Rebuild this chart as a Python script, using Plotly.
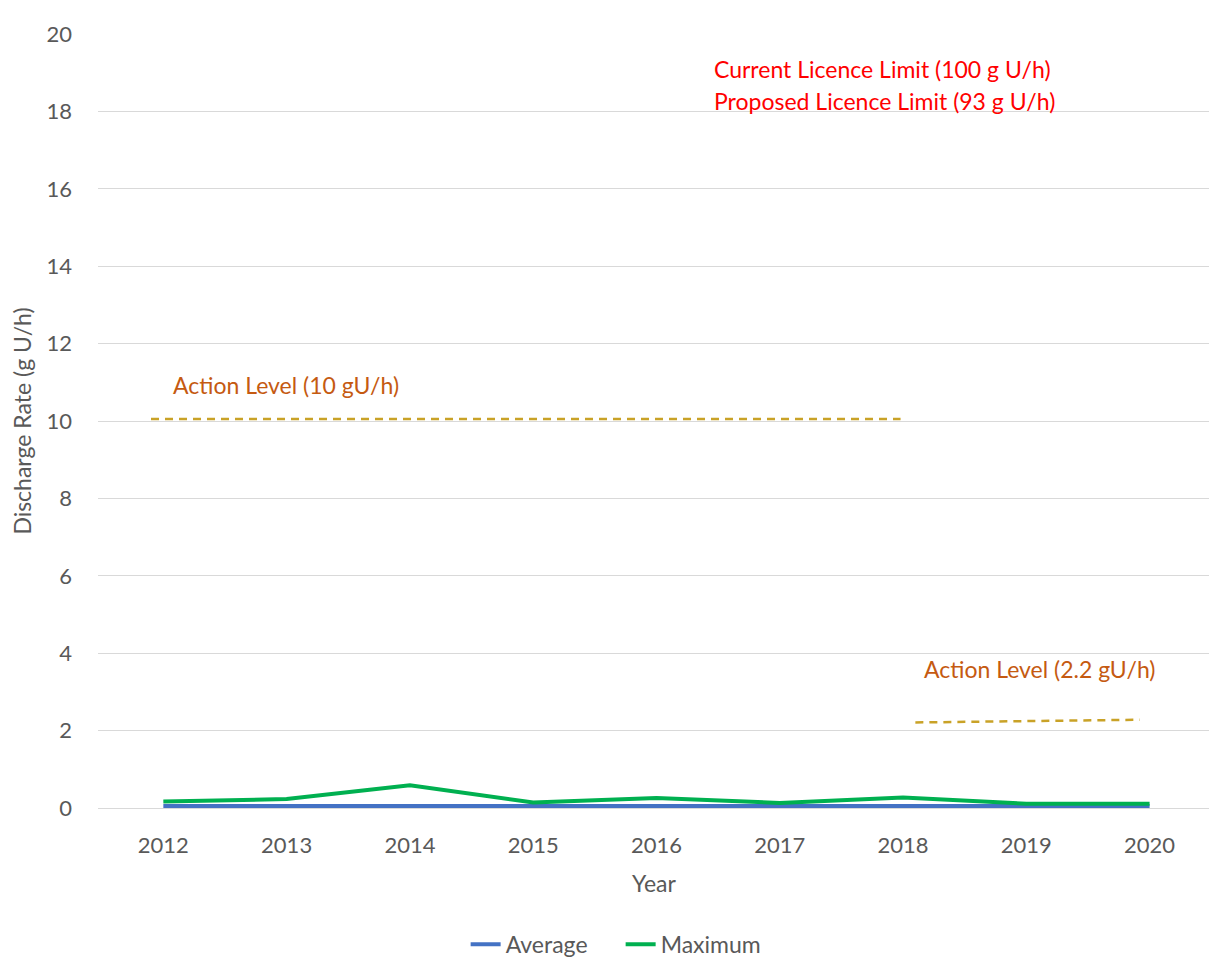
import plotly.graph_objects as go

years = [2012, 2013, 2014, 2015, 2016, 2017, 2018, 2019, 2020]
average = [0.05, 0.04, 0.05, 0.05, 0.05, 0.04, 0.05, 0.05, 0.05]
maximum = [0.17, 0.23, 0.59, 0.14, 0.26, 0.13, 0.27, 0.11, 0.11]

action1_x = [2011.9, 2017.98]
action1_y = [10.05, 10.05]
action2_x = [2018.1, 2019.92]
action2_y = [2.21, 2.28]

y_ticks = [0, 2, 4, 6, 8, 10, 12, 14, 16, 18, 20]

FONT = "Lato, 'Open Sans', sans-serif"
GREY = "#595959"
DASH_COLOR = "#C9A227"

fig = go.Figure()
fig.add_trace(go.Scatter(x=years, y=average, mode="lines", name="Average",
                         line=dict(color="#4472C4", width=4)))
fig.add_trace(go.Scatter(x=years, y=maximum, mode="lines", name="Maximum",
                         line=dict(color="#00B050", width=4)))
fig.add_trace(go.Scatter(x=action1_x, y=action1_y, mode="lines", showlegend=False,
                         line=dict(color=DASH_COLOR, width=2.5, dash="8px,6px"), hoverinfo="skip"))
fig.add_trace(go.Scatter(x=action2_x, y=action2_y, mode="lines", showlegend=False,
                         line=dict(color=DASH_COLOR, width=2.5, dash="8px,6px"), hoverinfo="skip"))

fig.add_annotation(x=2012.065, y=10.93, xanchor="left", yanchor="middle", showarrow=False,
                   text="Action Level (10 gU/h)", font=dict(color="#C55A11", size=23, family=FONT))
fig.add_annotation(x=2018.15, y=3.6, xanchor="left", yanchor="middle", showarrow=False,
                   text="Action Level (2.2 gU/h)", font=dict(color="#C55A11", size=23, family=FONT))
fig.add_annotation(x=2017.83, y=19.1, xanchor="center", yanchor="middle", showarrow=False,
                   text="Current Licence Limit (100 g U/h)", font=dict(color="#FF0000", size=23, family=FONT))
fig.add_annotation(x=2017.85, y=18.28, xanchor="center", yanchor="middle", showarrow=False,
                   text="Proposed Licence Limit (93 g U/h)", font=dict(color="#FF0000", size=23, family=FONT))

fig.update_layout(
    width=1217, height=974,
    margin=dict(l=89, r=15, t=22, b=174),
    paper_bgcolor="white", plot_bgcolor="white",
    font=dict(family=FONT, color=GREY, size=22),
    showlegend=True,
    legend=dict(orientation="h", x=0.47, xanchor="center", y=-0.176, yanchor="middle",
                font=dict(size=23, color=GREY), entrywidth=110, entrywidthmode="pixels"),
    xaxis=dict(range=[2011.47, 2020.49], tickmode="array", tickvals=years,
               ticktext=[str(y) for y in years], showgrid=False, zeroline=False,
               showline=False, ticks="", ticklabelstandoff=22,
               tickfont=dict(size=22, color=GREY),
               title=dict(text="Year", font=dict(size=23, color=GREY), standoff=18)),
    yaxis=dict(range=[0, 20], tickvals=y_ticks, showgrid=True, gridcolor="#D9D9D9",
               gridwidth=1, zeroline=True, zerolinecolor="#D9D9D9", zerolinewidth=1,
               showline=False, ticks="", ticklabelstandoff=25,
               tickfont=dict(size=22, color=GREY),
               title=dict(text="Discharge Rate (g U/h)", font=dict(size=23, color=GREY), standoff=10)),
)

fig.write_html("out.html")
